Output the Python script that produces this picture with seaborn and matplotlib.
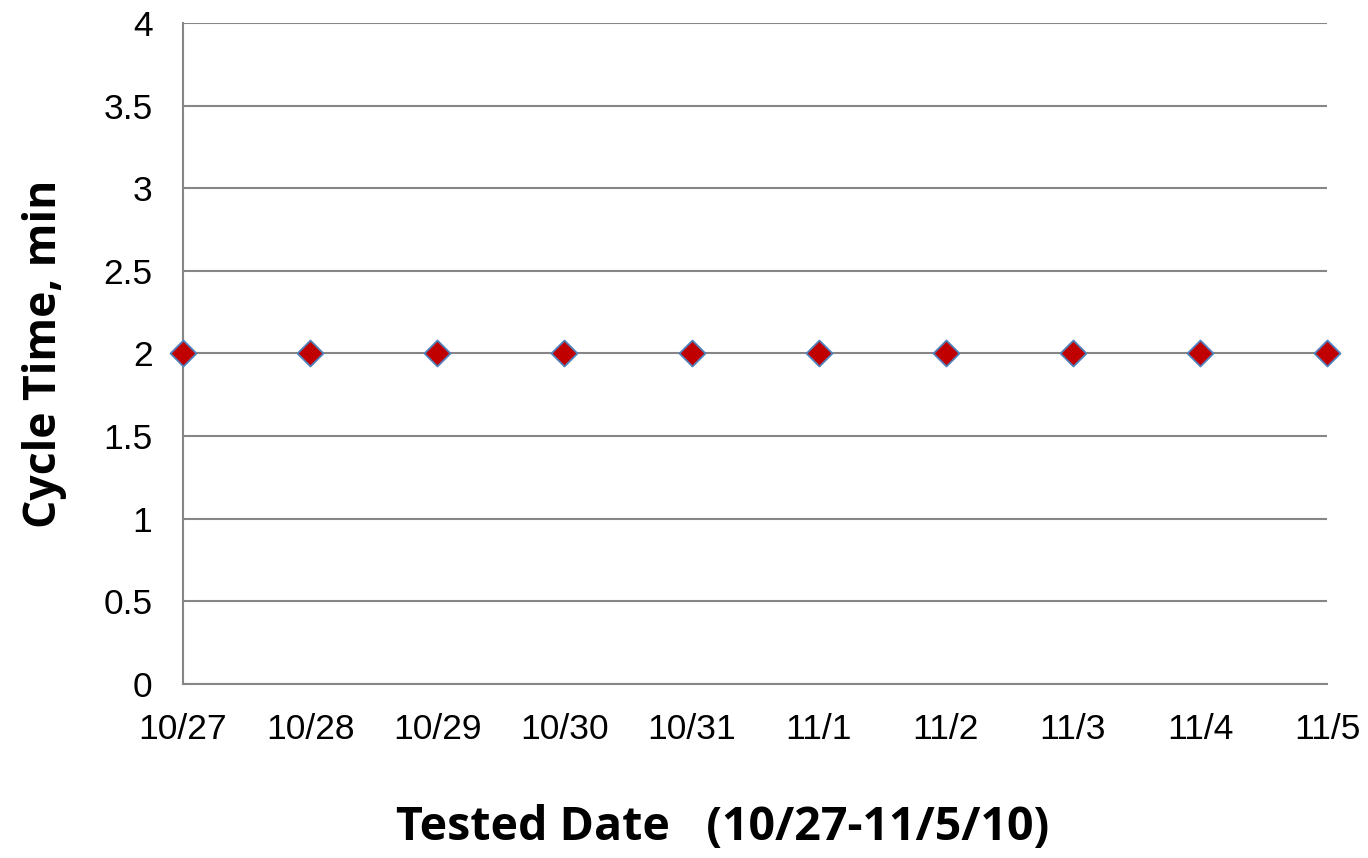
import matplotlib
matplotlib.use("Agg")
import matplotlib.pyplot as plt
import seaborn as sns
import pandas as pd

dates = ["10/27", "10/28", "10/29", "10/30", "10/31", "11/1", "11/2", "11/3", "11/4", "11/5"]
cycle_time = [2, 2, 2, 2, 2, 2, 2, 2, 2, 2]
y_ticks = [0, 0.5, 1, 1.5, 2, 2.5, 3, 3.5, 4]
y_tick_labels = ["0", "0.5", "1", "1.5", "2", "2.5", "3", "3.5", "4"]

df = pd.DataFrame({"pos": range(len(dates)), "Cycle Time": cycle_time})

sns.set_style("white")
plt.rcParams["font.family"] = ["Liberation Sans", "DejaVu Sans"]
plt.rcParams["text.color"] = "black"
plt.rcParams["axes.labelcolor"] = "black"
plt.rcParams["xtick.color"] = "black"
plt.rcParams["ytick.color"] = "black"

fig = plt.figure(figsize=(13.68, 8.58), dpi=100)
ax = fig.add_axes([0.1338, 0.2028, 0.8363, 0.7704])

sns.scatterplot(data=df, x="pos", y="Cycle Time", marker="D", s=175,
                color="#C00000", edgecolor="#4F81BD", linewidth=1.3,
                zorder=5, clip_on=False, ax=ax)

ax.set_xlim(0, len(dates) - 1)
ax.set_ylim(0, 4)
ax.set_xticks(range(len(dates)))
ax.set_xticklabels(dates, fontsize=25.5)
ax.set_yticks(y_ticks)
ax.set_yticklabels(y_tick_labels, fontsize=25.5)
ax.tick_params(axis="both", length=0)
ax.tick_params(axis="x", pad=21)
ax.tick_params(axis="y", pad=22)

ax.yaxis.grid(True, color="#868686", linewidth=1.5)
ax.set_axisbelow(True)
for side in ["top", "right"]:
    ax.spines[side].set_visible(False)
for side in ["left", "bottom"]:
    ax.spines[side].set_color("#868686")
    ax.spines[side].set_linewidth(1.5)

ax.set_xlabel("Tested Date   (10/27-11/5/10)", fontsize=33.5, fontweight="bold",
              family=["Open Sans", "DejaVu Sans"])
ax.xaxis.set_label_coords(0.472, -0.182)
ax.set_ylabel("Cycle Time, min", fontsize=32, fontweight="bold",
              family=["Open Sans", "DejaVu Sans"], labelpad=26)

fig.savefig("out.png", dpi=100)
